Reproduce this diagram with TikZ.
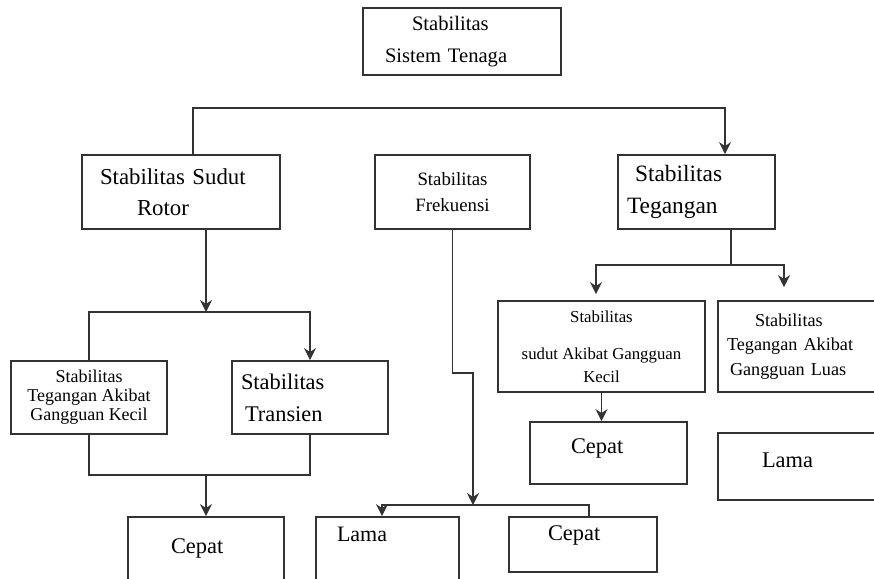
\documentclass[tikz,border=0pt]{standalone}
\usepackage{fontspec}
\setmainfont{Liberation Serif}
\usetikzlibrary{arrows.meta,positioning,calc}

\begin{document}
\begin{tikzpicture}[
    x=0.5pt, y=-0.5pt,
    box/.style={rectangle, draw=black!80, line width=0.9pt, inner ysep=1pt},
    line/.style={draw=black!80, line width=0.85pt},
    arrow/.style={line, -{Stealth[length=6pt, width=6pt]}}
]
\useasboundingbox (0,0) rectangle (874,579);

% Top level
\node[box, minimum width=99pt, minimum height=33.5pt, text width=77pt, align=left,
      font=\fontsize{10.3}{16}\selectfont] (sistem) at (462,41.5)
    {\hspace*{13.5pt}Stabilitas\\Sistem Tenaga};

% Second level
\node[box, minimum width=99pt, minimum height=37pt, text width=81pt, align=left,
      font=\fontsize{11.4}{15.5}\selectfont] (sudutrotor) at (181,192)
    {Stabilitas Sudut\\\hspace*{18.5pt}Rotor};
\node[box, minimum width=77.5pt, minimum height=37pt, align=center,
      font=\fontsize{9.4}{13}\selectfont] (frekuensi) at (452.5,192)
    {Stabilitas\\Frekuensi};
\node[box, minimum width=78.5pt, minimum height=37pt, text width=69.5pt, align=left,
      font=\fontsize{11.7}{16}\selectfont] (tegangan) at (696.5,192)
    {\hspace*{4pt}Stabilitas\\Tegangan};

% Rotor angle branch
\node[box, minimum width=78pt, minimum height=36.5pt, align=center,
      font=\fontsize{9}{9.5}\selectfont] (tegkecil) at (89,397.5)
    {Stabilitas\\Tegangan Akibat\\Gangguan Kecil};
\node[box, minimum width=78pt, minimum height=36.5pt, text width=69pt, align=left,
      font=\fontsize{11.2}{16}\selectfont] (transien) at (310,397.5)
    {Stabilitas\\\hspace*{2pt}Transien};
\node[box, minimum width=78pt, minimum height=39pt, text width=35pt, align=left,
      text depth=10.4pt, font=\fontsize{11.2}{14}\selectfont] (cepatA) at (206,556)
    {Cepat};

% Frequency branch
\node[box, minimum width=71.5pt, minimum height=36.5pt, text width=50.5pt, align=left,
      text depth=18.9pt, font=\fontsize{11}{14}\selectfont] (lamaA) at (387.5,553.5)
    {Lama};
\node[box, minimum width=74pt, minimum height=27.5pt, text width=35pt, align=left,
      text depth=11.9pt, font=\fontsize{11.2}{14}\selectfont] (cepatB) at (583,544.5)
    {Cepat};

% Voltage branch
\node[box, minimum width=103.5pt, minimum height=45.5pt, align=center,
      font=\fontsize{8.4}{11.5}\selectfont] (sudutkecil) at (601.5,346.5)
    {Stabilitas\\[7pt]sudut Akibat Gangguan\\Kecil};
\node[box, minimum width=81pt, minimum height=45.5pt, text width=72pt, align=left,
      font=\fontsize{9.1}{12.25}\selectfont] (tegluas) at (799,346.5)
    {\hspace*{14pt}Stabilitas\\Tegangan Akibat\\\hspace*{1.5pt}Gangguan Luas};
\node[box, minimum width=78.5pt, minimum height=31pt, text width=37.5pt, align=left,
      text depth=7.4pt, font=\fontsize{11.2}{14}\selectfont] (cepatC) at (608.5,453)
    {Cepat};
\node[box, minimum width=81pt, minimum height=33.5pt, text width=37pt, align=left,
      text depth=5.9pt, font=\fontsize{11.2}{14}\selectfont] (lamaC) at (799,466.5)
    {Lama};

% Bus points
\coordinate (busA) at (0,108);
\coordinate (busB) at (206,312);
\coordinate (busC) at (206,475);
\coordinate (bendD) at (473,373);
\coordinate (busD) at (473,505);
\coordinate (busE) at (731,265);

% Connections
\draw[arrow] ([xshift=6pt]sudutrotor.north) -- ([xshift=6pt]sudutrotor.north |- busA)
    -| ([xshift=14.25pt]tegangan.north);

\draw[arrow] ([xshift=12.5pt]sudutrotor.south) -- (busB);
\draw[arrow] (tegkecil.north) -- (tegkecil.north |- busB) -| (transien.north);
\draw[line] (tegkecil.south) |- (busC) -| (transien.south);
\draw[arrow] (busC) -- (cepatA.north);

\draw[arrow] (frekuensi.south) |- (bendD) -- (busD);
\draw[arrow] ([xshift=3pt]cepatB.north) -- ([xshift=3pt]cepatB.north |- busD)
    -| ([xshift=-2.75pt]lamaA.north);

\draw[line] ([xshift=17.25pt]tegangan.south) -- (busE);
\draw[arrow, shorten >=3pt] (busE) -| ([xshift=-2.75pt]sudutkecil.north);
\draw[arrow, shorten >=6.5pt] (busE) -| ([xshift=-7.5pt]tegluas.north);
\draw[arrow] (sudutkecil.south) -- (sudutkecil.south |- cepatC.north);

\end{tikzpicture}
\end{document}
